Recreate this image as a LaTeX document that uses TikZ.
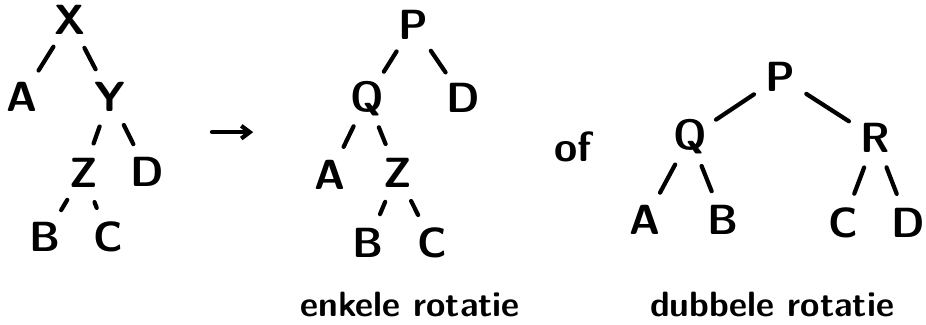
\documentclass[tikz,border=0pt]{standalone}
\usepackage{fontspec}
\usepackage{tikz}
\usetikzlibrary{arrows.meta, positioning}
\tikzset{
    % Tree letters
    tnode/.style={circle, inner sep=0pt, minimum size=1.55cm,
                 font=\fontsize{30}{36}\selectfont\sffamily\bfseries},
    tedge/.style={line width=3pt, line cap=round},
    % Captions
    capt/.style={font=\fontsize{25}{30}\selectfont\sffamily\bfseries},
    % General
    garrow/.style={-{Straight Barb[length=6pt, width=9pt]}, line width=3pt, line cap=round},
}
\begin{document}
\begin{tikzpicture}
\useasboundingbox (0,0) rectangle (23.15,8.125);

% Tree before rotation
\node[tnode] (x1) at (1.75,7.62)  {X};
\node[tnode] (a1) at (0.55,5.7)   {A};
\node[tnode] (y1) at (2.75,5.7)   {Y};
\node[tnode] (z1) at (2.08,3.8)   {Z};
\node[tnode] (d1) at (3.68,3.82)  {D};
\node[tnode] (b1) at (1.13,2.2)   {B};
\node[tnode] (c1) at (2.70,2.2)   {C};
\draw[tedge] (x1) -- (a1);
\draw[tedge] (x1) -- (y1);
\draw[tedge] (y1) -- (z1);
\draw[tedge] (y1) -- (d1);
\draw[tedge] (z1) -- (b1);
\draw[tedge] (z1) -- (c1);

% Arrow
\coordinate (arrs) at (5.3,4.82);
\coordinate (arre) at (6.33,4.82);
\draw[garrow] (arrs) -- (arre);

% Single rotation
\node[tnode] (p2) at (10.33,7.5)  {P};
\node[tnode] (q2) at (9.18,5.67)  {Q};
\node[tnode] (d2) at (11.58,5.67) {D};
\node[tnode] (a2) at (8.25,3.75)  {A};
\node[tnode] (z2) at (9.93,3.8)   {Z};
\node[tnode] (b2) at (9.20,2.05)  {B};
\node[tnode] (c2) at (10.80,2.05) {C};
\draw[tedge] (p2) -- (q2);
\draw[tedge] (p2) -- (d2);
\draw[tedge] (q2) -- (a2);
\draw[tedge] (q2) -- (z2);
\draw[tedge] (z2) -- (b2);
\draw[tedge] (z2) -- (c2);
\node[capt] (enk) at (10.25,0.5) {enkele rotatie};

% of
\node[tnode] (of) at (14.33,4.45) {of};

% Double rotation
\node[tnode] (p3) at (19.50,6.2)   {P};
\node[tnode] (q3) at (17.25,4.7)   {Q};
\node[tnode] (r3) at (21.88,4.67)  {R};
\node[tnode] (a3) at (16.13,2.62)  {A};
\node[tnode] (b3) at (18.08,2.62)  {B};
\node[tnode] (c3) at (21.08,2.55)  {C};
\node[tnode] (d3) at (22.70,2.55)  {D};
\draw[tedge] (p3) -- (q3);
\draw[tedge] (p3) -- (r3);
\draw[tedge] (q3) -- (a3);
\draw[tedge] (q3) -- (b3);
\draw[tedge] (r3) -- (c3);
\draw[tedge] (r3) -- (d3);
\node[capt] (dub) at (19.30,0.5) {dubbele rotatie};

\end{tikzpicture}
\end{document}
